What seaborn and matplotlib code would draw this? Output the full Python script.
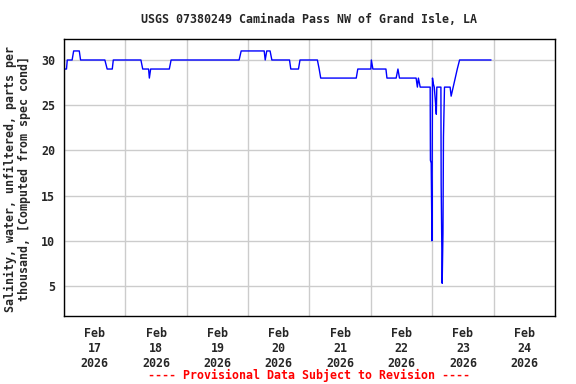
import matplotlib
matplotlib.use("Agg")
import matplotlib.pyplot as plt
import matplotlib.dates as mdates
import pandas as pd
import seaborn as sns

# ---------------------------------------------------------------------------
# Data
# ---------------------------------------------------------------------------
times = [
    "2026-02-17 00:24", "2026-02-17 01:00", "2026-02-17 01:18", "2026-02-17 03:12",
    "2026-02-17 03:48", "2026-02-17 06:00", "2026-02-17 06:30", "2026-02-17 16:00",
    "2026-02-17 16:54", "2026-02-17 18:54", "2026-02-17 19:18", "2026-02-18 06:06",
    "2026-02-18 06:48", "2026-02-18 09:06", "2026-02-18 09:24", "2026-02-18 09:54",
    "2026-02-18 17:12", "2026-02-18 17:54", "2026-02-19 20:30", "2026-02-19 21:18",
    "2026-02-20 06:18", "2026-02-20 06:42", "2026-02-20 07:18", "2026-02-20 08:36",
    "2026-02-20 09:18", "2026-02-20 16:12", "2026-02-20 16:42", "2026-02-20 19:42",
    "2026-02-20 20:18", "2026-02-21 03:06", "2026-02-21 03:48", "2026-02-21 04:24",
    "2026-02-21 18:18", "2026-02-21 18:54", "2026-02-22 00:00", "2026-02-22 00:12",
    "2026-02-22 00:48", "2026-02-22 05:54", "2026-02-22 06:18", "2026-02-22 09:54",
    "2026-02-22 10:36", "2026-02-22 11:12", "2026-02-22 17:42", "2026-02-22 18:12",
    "2026-02-22 18:36", "2026-02-22 19:18", "2026-02-22 20:00", "2026-02-22 23:12",
    "2026-02-22 23:18", "2026-02-22 23:36", "2026-02-22 23:54", "2026-02-23 00:06",
    "2026-02-23 00:24", "2026-02-23 00:48", "2026-02-23 01:12", "2026-02-23 01:36",
    "2026-02-23 01:48", "2026-02-23 03:24", "2026-02-23 03:30", "2026-02-23 03:54",
    "2026-02-23 04:12", "2026-02-23 04:24", "2026-02-23 04:48", "2026-02-23 07:00",
    "2026-02-23 07:24", "2026-02-23 08:12", "2026-02-23 09:00", "2026-02-23 09:48",
    "2026-02-23 10:42", "2026-02-23 23:00",
]
salinity = [
    29, 29, 30, 30,
    31, 31, 30, 30,
    29, 29, 30, 30,
    29, 29, 28, 29,
    29, 30, 30, 31,
    31, 30, 31, 31,
    30, 30, 29, 29,
    30, 30, 29, 28,
    28, 29, 29, 30,
    29, 29, 28, 28,
    29, 28, 28, 27,
    28, 27, 27, 27,
    18.9, 18.6, 10, 28,
    27.4, 27, 25.6, 24,
    27, 27, 16.2, 5.3,
    10.8, 21.5, 27, 27,
    26, 27, 28, 29,
    30, 30,
]
y_ticks = [5, 10, 15, 20, 25, 30]

TITLE = "USGS 07380249 Caminada Pass NW of Grand Isle, LA"
Y_LABEL = "Salinity, water, unfiltered, parts per\nthousand, [Computed from spec cond]"
FOOTER = "---- Provisional Data Subject to Revision ----"

df = pd.DataFrame({"time": pd.to_datetime(times), "salinity": salinity})

# ---------------------------------------------------------------------------
# Plot
# ---------------------------------------------------------------------------
sns.set_style("white")
plt.rcParams["font.family"] = ["DejaVu Sans Mono"]
plt.rcParams["font.weight"] = "bold"
FS = 8.4

fig = plt.figure(figsize=(5.76, 3.84), dpi=100)
ax = fig.add_axes([0.111, 0.177, 0.8525, 0.7214])

sns.lineplot(data=df, x="time", y="salinity", ax=ax, color="#0000ff",
             linewidth=1.0, estimator=None, sort=False)

ax.set_xlim(pd.Timestamp("2026-02-17 00:00"), pd.Timestamp("2026-02-25 00:00"))
ax.set_ylim(1.68, 32.32)
ax.set_yticks(y_ticks)
ax.set_yticklabels([str(v) for v in y_ticks], fontsize=FS, fontweight="bold")

# gridlines at midnight, labels at noon
ax.xaxis.set_major_locator(mdates.DayLocator())
ax.xaxis.set_major_formatter(plt.NullFormatter())
ax.xaxis.set_minor_locator(mdates.HourLocator(byhour=12))
ax.xaxis.set_minor_formatter(mdates.DateFormatter("%b\n%d\n%Y"))
ax.tick_params(axis="x", which="both", length=0, pad=8, labelsize=FS)
ax.tick_params(axis="y", length=0, pad=6.5, labelsize=FS)
for lbl in ax.xaxis.get_minorticklabels():
    lbl.set_fontweight("bold")

ax.grid(True, which="major", color="#cccccc", linewidth=1.0)
ax.set_axisbelow(True)
for sp in ax.spines.values():
    sp.set_color("black")
    sp.set_linewidth(1.0)

ax.set_xlabel("")
ax.set_ylabel("")

fig.text(0.5365, 0.950, TITLE, ha="center", va="center", fontsize=FS, fontweight="bold")
fig.text(0.0295, 0.534, Y_LABEL, ha="center", va="center", rotation=90,
         fontsize=FS, fontweight="bold", multialignment="center", linespacing=1.1)
fig.text(0.536, 0.023, FOOTER, ha="center", va="center", fontsize=FS,
         fontweight="bold", color="#ff0000")

fig.savefig("out.png", dpi=100)
